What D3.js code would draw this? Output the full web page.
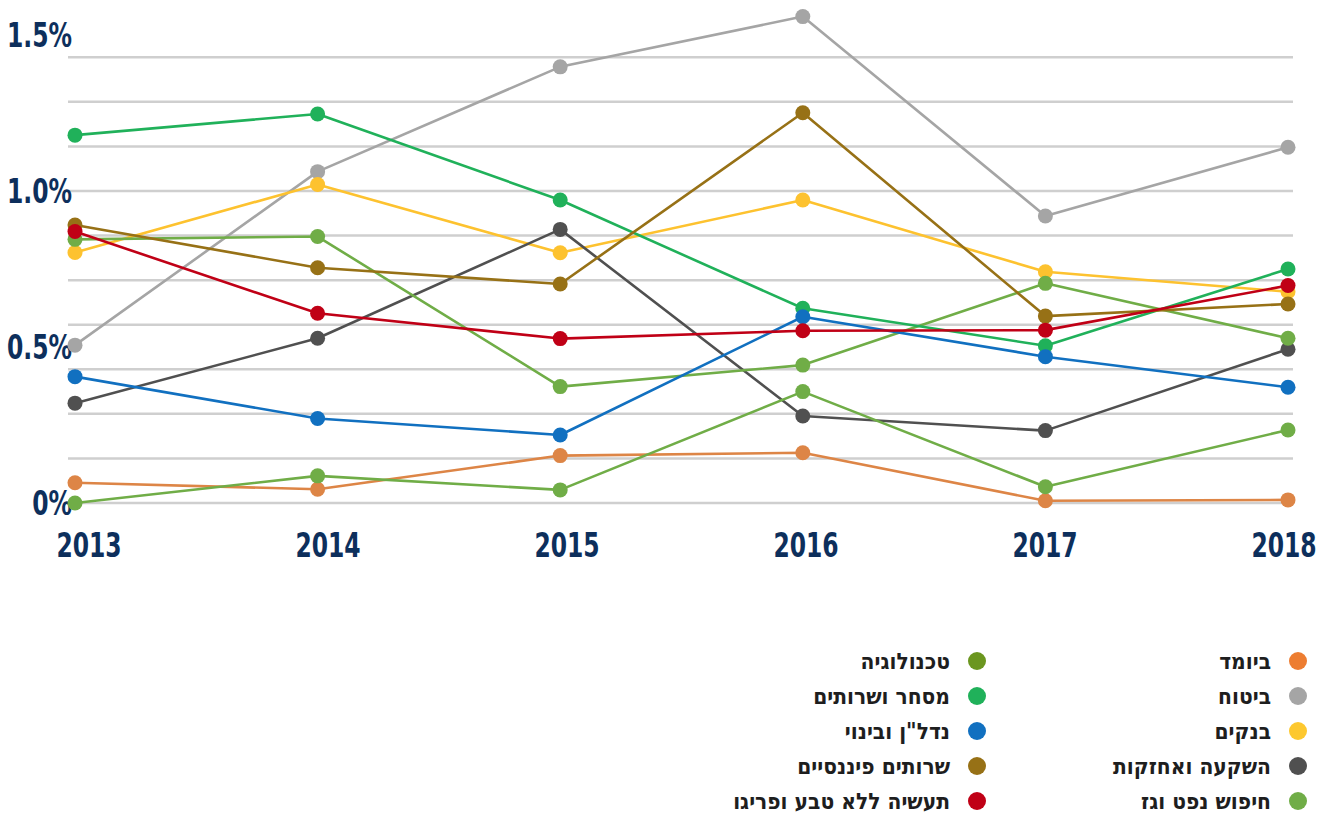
<!DOCTYPE html>
<html>
<head>
<meta charset="utf-8">
<script src="https://cdn.jsdelivr.net/npm/d3@7"></script>
<style>
  body { margin: 0; background: #ffffff; }
  svg { display: block; }
</style>
</head>
<body>
<div id="chart"></div>
<script>
// years on the x axis
var years = [2013, 2014, 2015, 2016, 2017, 2018];

// values per sector, in percent
var biomed      = [0.065, 0.044, 0.152, 0.161, 0.007, 0.010];
var insurance   = [0.506, 1.062, 1.398, 1.559, 0.920, 1.140];
var banks       = [0.803, 1.021, 0.802, 0.971, 0.741, 0.677];
var holdings    = [0.320, 0.528, 0.877, 0.279, 0.232, 0.493];
var oilGas      = [0.000, 0.087, 0.042, 0.357, 0.052, 0.234];
var technology  = [0.845, 0.854, 0.373, 0.442, 0.704, 0.528];
var trade       = [1.179, 1.247, 0.971, 0.624, 0.504, 0.750];
var realEstate  = [0.405, 0.271, 0.218, 0.597, 0.469, 0.371];
var finServices = [0.891, 0.754, 0.702, 1.251, 0.599, 0.638];
var industry    = [0.870, 0.608, 0.527, 0.552, 0.554, 0.697];

var seriesNames = ["ביומד", "ביטוח", "בנקים", "השקעה ואחזקות", "חיפוש נפט וגז",
                   "טכנולוגיה", "מסחר ושרותים", "נדל\"ן ובינוי", "שרותים פיננסיים", "תעשיה ללא טבע ופריגו"];
var seriesValues = [biomed, insurance, banks, holdings, oilGas,
                    technology, trade, realEstate, finServices, industry];

// y axis labels
var yTickValues = [0, 0.5, 1.0, 1.5];
var yTickLabels = ["0%", "0.5%", "1.0%", "1.5%"];

// colours
var legendColors = ["#ED7D31", "#A5A5A5", "#FDC82F", "#505050", "#70AD47",
                    "#6B961F", "#20B15A", "#1170C0", "#977116", "#C00016"];
var lineColors   = ["#DD8546", "#A5A5A5", "#FDC22F", "#505050", "#70AD47",
                    "#70AD47", "#20B15A", "#1170C0", "#977116", "#C00016"];

var width = 1329, height = 817;
var navy = "#0D2F5C";
var axisFont = "'DejaVu Sans Condensed', 'DejaVu Sans', sans-serif";
var squeeze = 0.79; // the original axis font is a narrow one

var svg = d3.select("#chart")
    .append("svg")
    .attr("width", width)
    .attr("height", height);

// scales
var x = d3.scalePoint()
    .domain(years)
    .range([75, 1288]);
var xLabel = d3.scalePoint()
    .domain(years)
    .range([89, 1284]);
var y = d3.scaleLinear()
    .domain([0, 1.5])
    .range([503, 35]);

// grid lines (every 1/7 of a percent, as in the original)
var gridValues = d3.range(0, 11).map(function(k) { return k / 7; });
svg.append("g").selectAll("line")
    .data(gridValues)
    .enter()
    .append("line")
    .attr("x1", 68)
    .attr("x2", 1293)
    .attr("y1", function(d) { return y(d); })
    .attr("y2", function(d) { return y(d); })
    .attr("stroke", "#CFCFCF")
    .attr("stroke-width", 2.5);

// y labels
svg.append("g").selectAll("g")
    .data(yTickValues)
    .enter()
    .append("g")
    .attr("transform", function(d) { return "translate(72," + y(d) + ") scale(" + squeeze + ",1)"; })
    .append("text")
    .attr("dy", "0.36em")
    .attr("text-anchor", "end")
    .attr("font-family", axisFont)
    .attr("font-weight", "bold")
    .attr("font-size", 33)
    .attr("fill", navy)
    .text(function(d, i) { return yTickLabels[i]; });

// x labels
svg.append("g").selectAll("g")
    .data(years)
    .enter()
    .append("g")
    .attr("transform", function(d) { return "translate(" + xLabel(d) + ",557) scale(" + squeeze + ",1)"; })
    .append("text")
    .attr("text-anchor", "middle")
    .attr("font-family", axisFont)
    .attr("font-weight", "bold")
    .attr("font-size", 33)
    .attr("fill", navy)
    .text(function(d) { return d; });

var series = seriesNames.map(function(name, i) {
    return {name: name, color: lineColors[i], values: seriesValues[i].map(function(v, j) { return {year: years[j], value: v}; })};
});

var line = d3.line()
    .x(function(d) { return x(d.year); })
    .y(function(d) { return y(d.value); });

var lines = svg.append("g").selectAll("g")
    .data(series)
    .enter()
    .append("g");

lines.append("path")
    .attr("d", function(d) { return line(d.values); })
    .attr("fill", "none")
    .attr("stroke", function(d) { return d.color; })
    .attr("stroke-width", 2.6)
    .attr("stroke-linejoin", "round");

lines.selectAll("circle")
    .data(function(d) { return d.values.map(function(v) { return {year: v.year, value: v.value, color: d.color}; }); })
    .enter()
    .append("circle")
    .attr("cx", function(d) { return x(d.year); })
    .attr("cy", function(d) { return y(d.value); })
    .attr("r", 7.5)
    .attr("fill", function(d) { return d.color; });

// legend, two columns
var legend = svg.append("g").selectAll("g")
    .data(seriesNames)
    .enter()
    .append("g")
    .attr("transform", function(d, i) {
        var col = Math.floor(i / 5), row = i % 5;
        return "translate(" + (col === 0 ? 1298 : 977) + "," + (661 + row * 35) + ")";
    });

legend.append("circle")
    .attr("r", 9)
    .attr("fill", function(d, i) { return legendColors[i]; });

legend.append("text")
    .attr("x", -27)
    .attr("dy", "0.36em")
    .attr("text-anchor", "end")
    .attr("font-family", "'DejaVu Sans Condensed', 'DejaVu Sans', sans-serif")
    .attr("font-weight", "bold")
    .attr("font-size", 22.5)
    .attr("fill", "#1E1E1E")
    .text(function(d) { return d; });
</script>
</body>
</html>
